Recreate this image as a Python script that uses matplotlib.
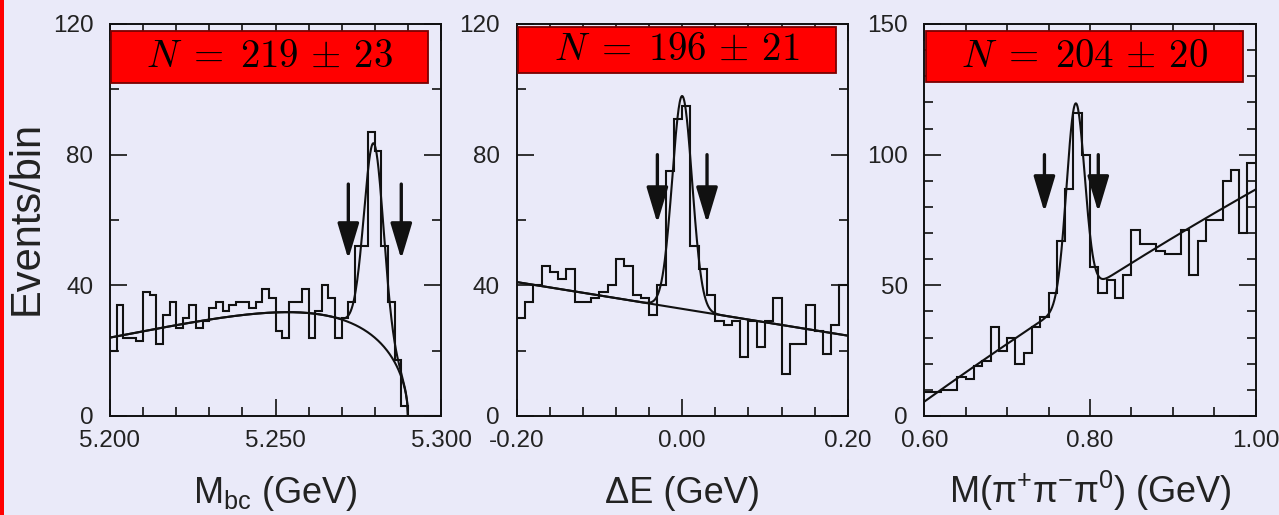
import numpy as np
import matplotlib
matplotlib.use("Agg")
import matplotlib.pyplot as plt
from matplotlib.patches import Rectangle
from matplotlib.ticker import FixedLocator, MultipleLocator, FixedFormatter

plt.rcParams['font.family'] = ['Liberation Sans', 'DejaVu Sans']
plt.rcParams['mathtext.fontset'] = 'custom'
plt.rcParams['mathtext.rm'] = 'Liberation Sans'
plt.rcParams['mathtext.it'] = 'Liberation Sans:italic'

BG = "#EAEAF9"
INK = "#111111"

# ---------------- data ----------------
# M_bc distribution: 50 bins of 2 MeV between 5.200 and 5.300 GeV
mbc_range = (5.200, 5.300)
mbc_counts = [20, 34, 24, 24, 23, 38, 37, 22, 31, 35,
              27, 30, 34, 27, 29, 33, 35, 32, 34, 35,
              35, 33, 35, 39, 36, 26, 24, 35, 35, 39,
              24, 32, 40, 36, 24, 30, 35, 52, 52, 87,
              81, 52, 35, 17, 3, 0, 0, 0, 0, 0]

# Delta E distribution: 40 bins of 10 MeV between -0.20 and 0.20 GeV
de_range = (-0.20, 0.20)
de_counts = [30, 35, 40, 46, 44, 42, 45, 35, 35, 36,
             38, 40, 48, 46, 37, 36, 31, 40, 75, 91,
             95, 52, 45, 37, 29, 28, 29, 18, 29, 21,
             29, 36, 13, 22, 22, 34, 26, 19, 28, 40]

# M(pi+ pi- pi0) distribution: 40 bins of 10 MeV between 0.60 and 1.00 GeV
m3pi_range = (0.60, 1.00)
m3pi_counts = [9, 9, 10, 10, 15, 14, 19, 21, 34, 25,
               30, 20, 24, 34, 38, 47, 67, 87, 116, 100,
               57, 47, 52, 45, 54, 71, 66, 66, 63, 62,
               62, 71, 54, 67, 75, 75, 90, 94, 70, 97]

# fitted signal yields
yields = [219, 196, 204]
yield_errors = [23, 21, 20]

# fit shapes
mbc_endpoint, mbc_argus_c, mbc_bkg_at_lo = 5.290, -36.0, 24.0
mbc_mean, mbc_sigma = 5.2797, 0.00295
de_bkg_const, de_bkg_slope = 32.8, -41.0
de_mean, de_sigma = 0.0, 0.012
m3pi_bkg_c0, m3pi_bkg_c1, m3pi_bkg_c2 = 48.5, 203.0, -60.0
m3pi_mean, m3pi_sigma = 0.7826, 0.0109

# signal-window cuts
mbc_window = [5.272, 5.288]
de_window = [-0.03, 0.03]
m3pi_window = [0.745, 0.810]

# axis ticks
mbc_ticks, mbc_ticklabels = [5.200, 5.250, 5.300], ["5.200", "5.250", "5.300"]
de_ticks, de_ticklabels = [-0.20, 0.00, 0.20], ["-0.20", "0.00", "0.20"]
m3pi_ticks, m3pi_ticklabels = [0.60, 0.80, 1.00], ["0.60", "0.80", "1.00"]
y12_ticks, y12_ticklabels = [0, 40, 80, 120], ["0", "40", "80", "120"]
y3_ticks, y3_ticklabels = [0, 50, 100, 150], ["0", "50", "100", "150"]


def gauss_per_bin(x, n, width, mu, sigma):
    amp = n * width / (sigma * np.sqrt(2 * np.pi))
    return amp * np.exp(-0.5 * ((x - mu) / sigma) ** 2)


def argus_shape(m):
    z = np.clip(1 - (m / mbc_endpoint) ** 2, 0, None)
    return m * np.sqrt(z) * np.exp(mbc_argus_c * z)


# ---------------- figure ----------------
W, H = 1279, 515
fig = plt.figure(figsize=(W / 100, H / 100), dpi=100, facecolor=BG)
fig.patches.append(Rectangle((0, 0), 4 / W, 1, transform=fig.transFigure,
                             facecolor="#FF0000", edgecolor="none"))


def add_axes_px(x0, x1, y0=24, y1=416):
    return fig.add_axes([x0 / W, 1 - y1 / H, (x1 - x0) / W, (y1 - y0) / H])


def style(ax, xlim, ylim, xt, xtl, xminor, yt, ytl, yminor):
    ax.set_facecolor(BG)
    ax.set_xlim(*xlim)
    ax.set_ylim(*ylim)
    ax.xaxis.set_major_locator(FixedLocator(xt))
    ax.xaxis.set_major_formatter(FixedFormatter(xtl))
    ax.xaxis.set_minor_locator(MultipleLocator(xminor))
    ax.yaxis.set_major_locator(FixedLocator(yt))
    ax.yaxis.set_major_formatter(FixedFormatter(ytl))
    ax.yaxis.set_minor_locator(MultipleLocator(yminor))
    ax.tick_params(which="both", direction="in", top=True, right=True,
                   color=INK, width=1.2, labelsize=17.5, labelcolor="#222222")
    ax.tick_params(which="major", length=12)
    ax.tick_params(which="minor", length=6.5)
    ax.tick_params(axis="x", pad=10)
    ax.tick_params(axis="y", pad=12)
    for s in ax.spines.values():
        s.set_linewidth(1.4)
        s.set_color(INK)


def draw_arrows(ax, xs, top, tip):
    for x in xs:
        ax.annotate("", xy=(x, tip), xytext=(x, top),
                    arrowprops=dict(arrowstyle="-|>,head_length=1.1,head_width=0.33",
                                    mutation_scale=20, lw=2.4, color=INK,
                                    shrinkA=0, shrinkB=0))


hist_kw = dict(baseline=None, color=INK, lw=1.5)
fit_kw = dict(color=INK, lw=1.5)

# --- M_bc panel ---
ax1 = add_axes_px(110, 441)
edges = np.linspace(*mbc_range, len(mbc_counts) + 1)
ax1.stairs(mbc_counts, edges, **hist_kw)
w = edges[1] - edges[0]
m = np.linspace(mbc_range[0], mbc_endpoint, 600)
bkg = mbc_bkg_at_lo * argus_shape(m) / argus_shape(mbc_range[0])
ax1.plot(m, bkg, **fit_kw)
ax1.plot(m, bkg + gauss_per_bin(m, yields[0], w, mbc_mean, mbc_sigma), **fit_kw)
draw_arrows(ax1, mbc_window, 71, 48)
style(ax1, mbc_range, (0, 120), mbc_ticks, mbc_ticklabels, 0.01, y12_ticks, y12_ticklabels, 20)

# --- Delta E panel ---
ax2 = add_axes_px(516.7, 847.7)
edges = np.linspace(*de_range, len(de_counts) + 1)
ax2.stairs(de_counts, edges, **hist_kw)
w = edges[1] - edges[0]
x = np.linspace(*de_range, 600)
bkg = de_bkg_const + de_bkg_slope * x
ax2.plot(x, bkg, **fit_kw)
ax2.plot(x, bkg + gauss_per_bin(x, yields[1], w, de_mean, de_sigma), **fit_kw)
draw_arrows(ax2, de_window, 80, 59)
style(ax2, de_range, (0, 120), de_ticks, de_ticklabels, 0.04, y12_ticks, y12_ticklabels, 20)

# --- M(3pi) panel ---
ax3 = add_axes_px(924.3, 1255.7)
edges = np.linspace(*m3pi_range, len(m3pi_counts) + 1)
ax3.stairs(m3pi_counts, edges, **hist_kw)
w = edges[1] - edges[0]
x = np.linspace(*m3pi_range, 600)
d = x - 0.8
bkg = m3pi_bkg_c0 + m3pi_bkg_c1 * d + m3pi_bkg_c2 * d ** 2
ax3.plot(x, bkg + gauss_per_bin(x, yields[2], w, m3pi_mean, m3pi_sigma), **fit_kw)
draw_arrows(ax3, m3pi_window, 100, 78)
style(ax3, m3pi_range, (0, 150), m3pi_ticks, m3pi_ticklabels, 0.05, y3_ticks, y3_ticklabels, 10)

# --- yield boxes ---
boxes_px = [(110.7, 30.7, 427.7, 82.7), (518, 27, 836, 73), (926, 31, 1243, 82)]
for (x0, y0, x1, y1), n, e in zip(boxes_px, yields, yield_errors):
    fig.patches.append(Rectangle((x0 / W, 1 - y1 / H), (x1 - x0) / W, (y1 - y0) / H,
                                 transform=fig.transFigure, facecolor="#FF0000",
                                 edgecolor="#7A0000", lw=1.3, zorder=5))
    fig.text((x0 + x1) / 2 / W, 1 - (y0 + y1) / 2 / H,
             rf"$N\;=\;{n}\,\pm\,{e}$",
             ha="center", va="center", fontsize=28, math_fontfamily="cm",
             color="black", zorder=6)

# --- axis titles ---
label_kw = dict(ha="center", va="baseline", fontsize=26, color="#222222")
fig.text(275.5 / W, 1 - 503 / H, r"$\mathregular{M_{bc}}$ (GeV)", **label_kw)
fig.text(682.2 / W, 1 - 503 / H, "ΔE (GeV)", **label_kw)
fig.text(1090 / W, 1 - 503 / H, r"$\mathregular{M(\pi^{+}\pi^{-}\pi^{0})}$ (GeV)", **label_kw)
fig.text(27 / W, 1 - 218 / H, "Events/bin", rotation=90, ha="center", va="center",
         fontsize=30, color="#222222")

fig.savefig("out.png", dpi=100, facecolor=BG)
